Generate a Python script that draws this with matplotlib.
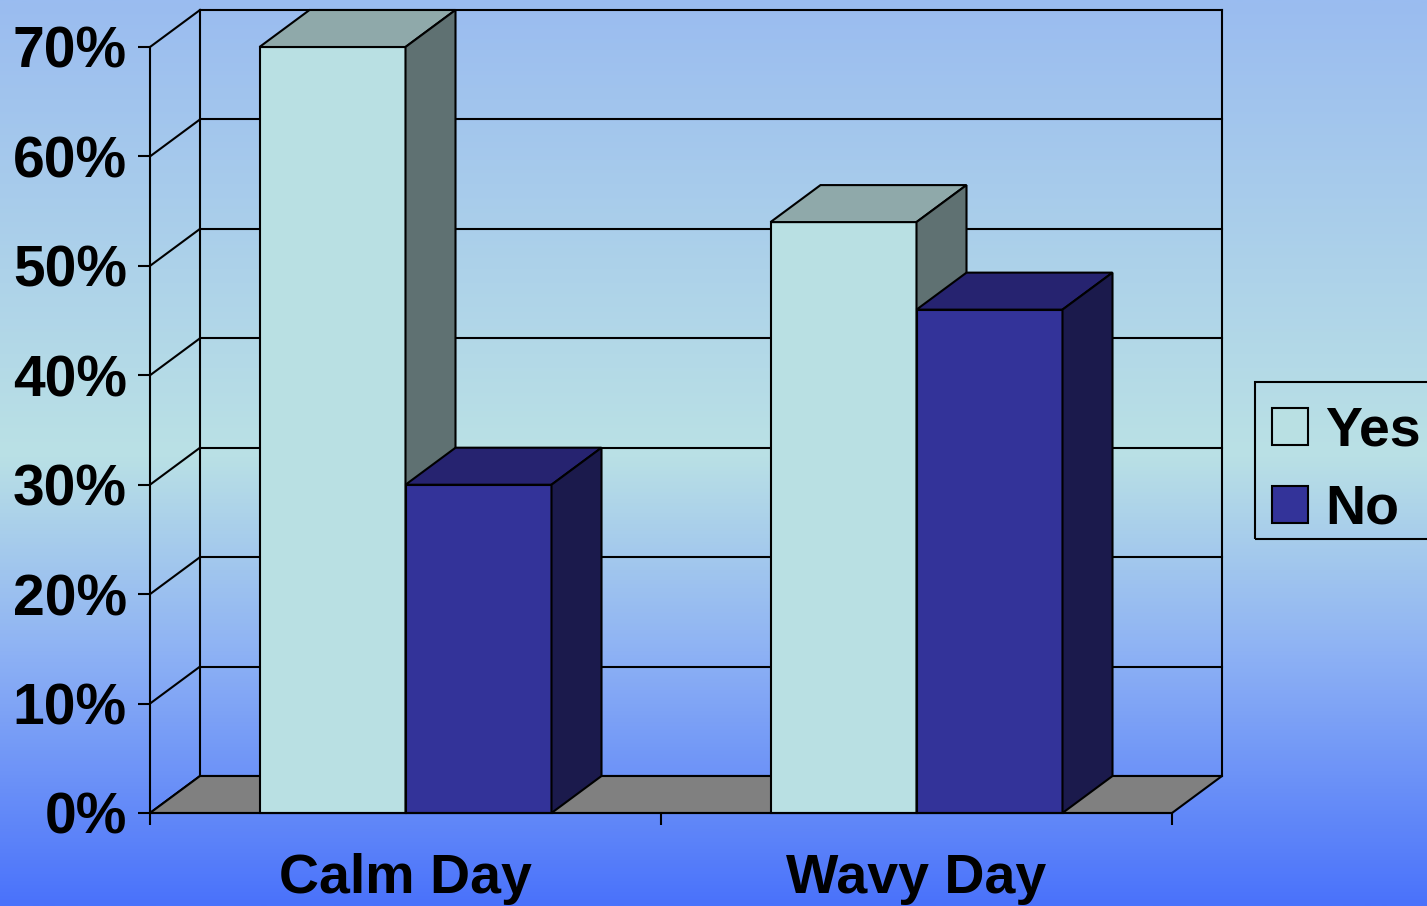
import matplotlib
matplotlib.use("Agg")
import matplotlib.pyplot as plt
import numpy as np
from matplotlib.patches import Polygon, Patch, Rectangle
from matplotlib.colors import LinearSegmentedColormap

# survey results, percent of answers per day type
categories = ["Calm Day", "Wavy Day"]
series = ["Yes", "No"]
yes_vals = [70, 54]
no_vals = [30, 46]
yticks = [0, 10, 20, 30, 40, 50, 60, 70]

# face colours: front, top, side
yes_cols = ("#B9E0E3", "#8FA9AA", "#5F7172")
no_cols = ("#333399", "#262370", "#1B1A4C")

plt.rcParams['font.family'] = ['Liberation Sans', 'DejaVu Sans']
plt.rcParams['font.weight'] = 'bold'
FS = 40
LW = 1.5

fig = plt.figure(figsize=(14.27, 9.06), dpi=100)

# gradient backdrop
bg = fig.add_axes([0, 0, 1, 1], zorder=-10)
cmap = LinearSegmentedColormap.from_list(
    "bg", [(0.0, "#9ABCF0"), (0.5, "#BAE1E5"), (0.72, "#8EB2F4"), (1.0, "#4A72FB")])
bg.imshow(np.linspace(0, 1, 512)[:, None], cmap=cmap, aspect='auto',
          extent=[0, 1, 0, 1], origin='upper')
bg.set_axis_off()

ax = fig.add_axes([150/1427, 93/906, 1022/1427, 766/906])
ax.patch.set_alpha(0)
ax.set_xlim(0, 2)
ax.set_ylim(0, 70)

# depth of the 3d box in data units
dx = 50 / 511
dy = 37 / (766 / 70)
top = yticks[-1]

def line(xs, ys, z=1):
    ax.plot(xs, ys, color="black", lw=LW, clip_on=False, zorder=z,
            solid_capstyle='projecting')

# back wall gridlines and side wall diagonals
for v in yticks:
    line([dx, 2 + dx], [v + dy, v + dy])
    line([0, dx], [v, v + dy])
line([dx, dx], [dy, top + dy])
line([2 + dx, 2 + dx], [dy, top + dy])

# floor
ax.add_patch(Polygon([(0, 0), (2, 0), (2 + dx, dy), (dx, dy)], closed=True,
                     facecolor="#808080", edgecolor="black", lw=LW,
                     clip_on=False, zorder=1.5))

w = 1 / 3.5
x = np.arange(len(categories)) + 0.5
z = 2
for i in range(len(categories)):
    for j, (vals, cols) in enumerate([(yes_vals, yes_cols), (no_vals, no_cols)]):
        left = x[i] - w + j * w
        h = vals[i]
        ax.bar(left, h, width=w, align='edge', color=cols[0], edgecolor="black",
               lw=LW, clip_on=False, zorder=z)
        ax.add_patch(Polygon([(left, h), (left + w, h), (left + w + dx, h + dy),
                              (left + dx, h + dy)], closed=True, facecolor=cols[1],
                             edgecolor="black", lw=LW, clip_on=False, zorder=z))
        ax.add_patch(Polygon([(left + w, 0), (left + w + dx, dy), (left + w + dx, h + dy),
                              (left + w, h)], closed=True, facecolor=cols[2],
                             edgecolor="black", lw=LW, clip_on=False, zorder=z))
        z += 0.1

for s in ["top", "right"]:
    ax.spines[s].set_visible(False)
for s in ["left", "bottom"]:
    ax.spines[s].set_linewidth(LW)
    ax.spines[s].set_zorder(10)

ax.set_yticks(yticks)
ax.set_yticklabels([f"{v}%" for v in yticks], fontsize=41, fontweight='bold')
ax.tick_params(axis='y', length=8.6, width=LW, pad=8)

ax.set_xticks([0, 1, 2])
ax.set_xticklabels([])
ax.set_xticks(x, minor=True)
ax.set_xticklabels(categories, minor=True, fontsize=FS, fontweight='bold')
ax.tick_params(axis='x', which='major', length=8.6, width=LW)
ax.tick_params(axis='x', which='minor', length=0, pad=29)

handles = [Patch(facecolor=yes_cols[0], edgecolor="black", lw=LW),
           Patch(facecolor=no_cols[0], edgecolor="black", lw=LW)]
leg = fig.legend(handles, series, loc='upper left',
                 bbox_to_anchor=(1255/1427, 1 - 389/906),
                 prop={'size': FS, 'weight': 'bold'},
                 handlelength=0.65, handleheight=0.65, handletextpad=0.32,
                 labelspacing=0.47, borderpad=0.3, borderaxespad=0,
                 frameon=False)
# legend box, open past the right edge
fig.patches.append(Rectangle((1255/1427, 1 - 539/906), 0.2, 157/906,
                             transform=fig.transFigure, facecolor="none",
                             edgecolor="black", lw=LW))

fig.savefig("out.png", dpi=100)
